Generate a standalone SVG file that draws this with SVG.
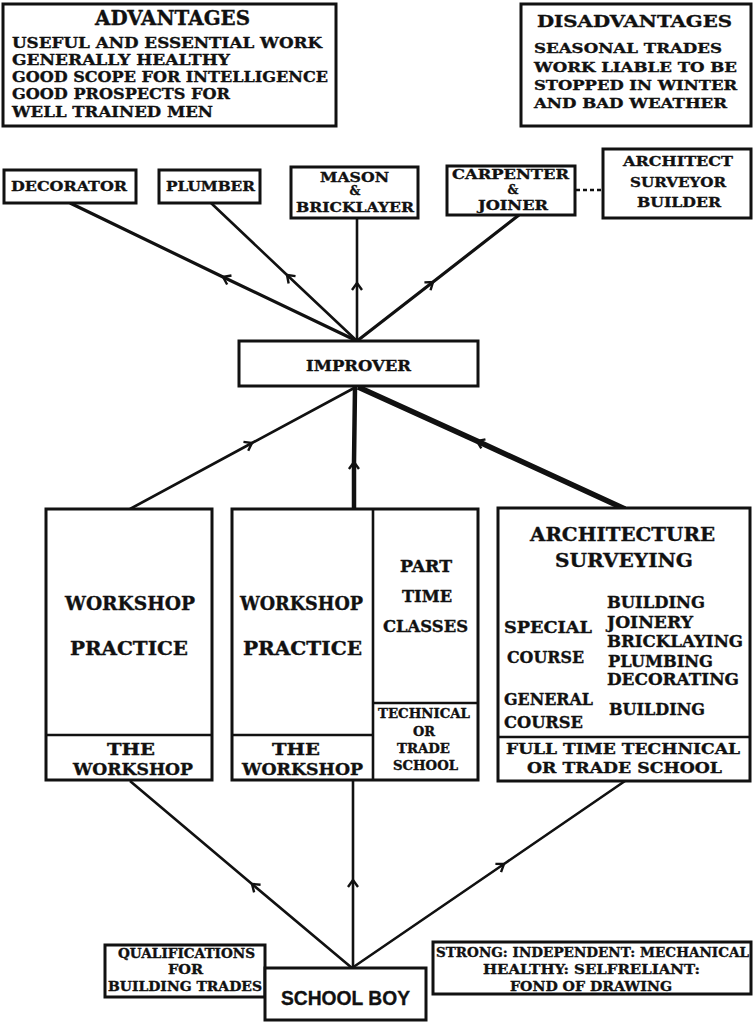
<svg xmlns="http://www.w3.org/2000/svg" width="753" height="1023" viewBox="0 0 753 1023">
<style>
.bx{fill:#fff;stroke:#111;stroke-width:3}
.ln{fill:none;stroke:#111;stroke-width:2.6}
.w3{stroke-width:3.2}
.w45{stroke-width:4.5}
.w55{stroke-width:5.5}
text{font-family:"DejaVu Serif","Liberation Serif",serif;font-weight:bold;fill:#111;stroke:#111;stroke-width:0.35}
.s{font-family:"Liberation Sans","DejaVu Sans",sans-serif}
</style>
<defs>
<marker id="ah" viewBox="-10 -7 12 14" markerWidth="12" markerHeight="14" refX="0" refY="0" orient="auto" markerUnits="userSpaceOnUse">
<path d="M-7,-5 L0,0 L-7,5" fill="none" stroke="#111" stroke-width="2.4"/>
</marker>
</defs>
<rect width="753" height="1023" fill="#fff"/>

<g id="connectors">
<path class="ln w3" d="M357,341 L223,277 L70,203" marker-mid="url(#ah)"/>
<path class="ln" d="M357,341 L287,275 L211,203" marker-mid="url(#ah)"/>
<path class="ln" d="M357,341 L357,283 L357,218" marker-mid="url(#ah)"/>
<path class="ln w3" d="M357,341 L433,282 L519,215" marker-mid="url(#ah)"/>
<path class="ln" d="M576,190 L603,190" stroke-dasharray="4 3"/>
<path class="ln" d="M130,509 L252,443 L356,387" marker-mid="url(#ah)"/>
<path class="ln w45" d="M354,509 L354,462 L355,387" marker-mid="url(#ah)"/>
<path class="ln w55" d="M625,509 L477,441 L358,387" marker-mid="url(#ah)"/>
<path class="ln" d="M352,968 L252,884 L130,781" marker-mid="url(#ah)"/>
<path class="ln" d="M353,968 L353,880 L353,781" marker-mid="url(#ah)"/>
<path class="ln" d="M352,968 L504,864 L625,781" marker-mid="url(#ah)"/>
</g>

<g id="advantages">
<rect class="bx" x="3" y="4" width="333" height="122"/>
<text x="95" y="25" font-size="20" textLength="155" lengthAdjust="spacingAndGlyphs">ADVANTAGES</text>
<text x="12" y="48" font-size="15" textLength="310" lengthAdjust="spacingAndGlyphs">USEFUL AND ESSENTIAL WORK</text>
<text x="12" y="65" font-size="15" textLength="218" lengthAdjust="spacingAndGlyphs">GENERALLY HEALTHY</text>
<text x="12" y="82" font-size="15" textLength="316" lengthAdjust="spacingAndGlyphs">GOOD SCOPE FOR INTELLIGENCE</text>
<text x="12" y="99" font-size="15" textLength="218" lengthAdjust="spacingAndGlyphs">GOOD PROSPECTS FOR</text>
<text x="12" y="117" font-size="15" textLength="201" lengthAdjust="spacingAndGlyphs">WELL TRAINED MEN</text>
</g>

<g id="disadvantages">
<rect class="bx" x="521" y="4" width="230" height="122"/>
<text x="537" y="27" font-size="17" textLength="195" lengthAdjust="spacingAndGlyphs">DISADVANTAGES</text>
<text x="534" y="53" font-size="13.5" textLength="188" lengthAdjust="spacingAndGlyphs">SEASONAL TRADES</text>
<text x="534" y="72" font-size="13.5" textLength="203" lengthAdjust="spacingAndGlyphs">WORK LIABLE TO BE</text>
<text x="534" y="90" font-size="13.5" textLength="203" lengthAdjust="spacingAndGlyphs">STOPPED IN WINTER</text>
<text x="534" y="108" font-size="13.5" textLength="193" lengthAdjust="spacingAndGlyphs">AND BAD WEATHER</text>
</g>

<g id="decorator">
<rect class="bx" x="4" y="170" width="132" height="33"/>
<text x="11" y="191" font-size="13.5" textLength="116" lengthAdjust="spacingAndGlyphs">DECORATOR</text>
</g>
<g id="plumber">
<rect class="bx" x="159" y="170" width="101" height="33"/>
<text x="166" y="191" font-size="13.5" textLength="89" lengthAdjust="spacingAndGlyphs">PLUMBER</text>
</g>
<g id="mason">
<rect class="bx" x="291" y="167" width="127" height="51"/>
<text x="320" y="182" font-size="13" textLength="69" lengthAdjust="spacingAndGlyphs">MASON</text>
<text x="355" y="195" font-size="12" text-anchor="middle">&amp;</text>
<text x="296" y="212" font-size="13.5" textLength="118" lengthAdjust="spacingAndGlyphs">BRICKLAYER</text>
</g>
<g id="carpenter">
<rect class="bx" x="447" y="166" width="128" height="49"/>
<text x="452" y="179" font-size="13.5" textLength="117" lengthAdjust="spacingAndGlyphs">CARPENTER</text>
<text x="513" y="194" font-size="12" text-anchor="middle">&amp;</text>
<text x="478" y="210" font-size="13.5" textLength="70" lengthAdjust="spacingAndGlyphs">JOINER</text>
</g>
<g id="architect">
<rect class="bx" x="603" y="149" width="148" height="69"/>
<text x="623" y="166" font-size="13.5" textLength="110" lengthAdjust="spacingAndGlyphs">ARCHITECT</text>
<text x="630" y="187" font-size="13.5" textLength="96" lengthAdjust="spacingAndGlyphs">SURVEYOR</text>
<text x="637" y="207" font-size="13.5" textLength="84" lengthAdjust="spacingAndGlyphs">BUILDER</text>
</g>

<g id="improver">
<rect class="bx" x="239" y="341" width="239" height="45"/>
<text x="306" y="371" font-size="14" textLength="105" lengthAdjust="spacingAndGlyphs">IMPROVER</text>
</g>

<g id="workshop1">
<rect class="bx" x="46" y="509" width="166" height="271"/>
<line class="ln" x1="46" y1="735" x2="212" y2="735"/>
<text x="65" y="610" font-size="18" textLength="130" lengthAdjust="spacingAndGlyphs">WORKSHOP</text>
<text x="70" y="655" font-size="18" textLength="118" lengthAdjust="spacingAndGlyphs">PRACTICE</text>
<text x="107" y="755" font-size="16" textLength="48" lengthAdjust="spacingAndGlyphs">THE</text>
<text x="73" y="775" font-size="16" textLength="120" lengthAdjust="spacingAndGlyphs">WORKSHOP</text>
</g>

<g id="workshop2">
<rect class="bx" x="232" y="509" width="246" height="271"/>
<line class="ln" x1="373" y1="509" x2="373" y2="780"/>
<line class="ln" x1="232" y1="735" x2="373" y2="735"/>
<line class="ln" x1="373" y1="703" x2="478" y2="703"/>
<text x="240" y="610" font-size="18" textLength="123" lengthAdjust="spacingAndGlyphs">WORKSHOP</text>
<text x="243" y="655" font-size="18" textLength="119" lengthAdjust="spacingAndGlyphs">PRACTICE</text>
<text x="272" y="755" font-size="16" textLength="48" lengthAdjust="spacingAndGlyphs">THE</text>
<text x="242" y="775" font-size="16" textLength="121" lengthAdjust="spacingAndGlyphs">WORKSHOP</text>
<text x="400" y="572" font-size="16" textLength="52" lengthAdjust="spacingAndGlyphs">PART</text>
<text x="402" y="602" font-size="16" textLength="50" lengthAdjust="spacingAndGlyphs">TIME</text>
<text x="383" y="632" font-size="16" textLength="85" lengthAdjust="spacingAndGlyphs">CLASSES</text>
<text x="378" y="718" font-size="12" textLength="92" lengthAdjust="spacingAndGlyphs">TECHNICAL</text>
<text x="413" y="736" font-size="12" textLength="22" lengthAdjust="spacingAndGlyphs">OR</text>
<text x="397" y="753" font-size="12" textLength="53" lengthAdjust="spacingAndGlyphs">TRADE</text>
<text x="393" y="770" font-size="12" textLength="65" lengthAdjust="spacingAndGlyphs">SCHOOL</text>
</g>

<g id="fulltime">
<rect class="bx" x="498" y="508" width="252" height="273"/>
<line class="ln" x1="498" y1="737" x2="750" y2="737"/>
<text x="530" y="541" font-size="19" textLength="185" lengthAdjust="spacingAndGlyphs">ARCHITECTURE</text>
<text x="555" y="567" font-size="19" textLength="138" lengthAdjust="spacingAndGlyphs">SURVEYING</text>
<text x="504" y="633" font-size="16" textLength="88" lengthAdjust="spacingAndGlyphs">SPECIAL</text>
<text x="507" y="663" font-size="16" textLength="77" lengthAdjust="spacingAndGlyphs">COURSE</text>
<text x="504" y="705" font-size="16" textLength="89" lengthAdjust="spacingAndGlyphs">GENERAL</text>
<text x="504" y="728" font-size="16" textLength="79" lengthAdjust="spacingAndGlyphs">COURSE</text>
<text x="607" y="608" font-size="16" textLength="98" lengthAdjust="spacingAndGlyphs">BUILDING</text>
<text x="607" y="628" font-size="16" textLength="86" lengthAdjust="spacingAndGlyphs">JOINERY</text>
<text x="607" y="647" font-size="16" textLength="136" lengthAdjust="spacingAndGlyphs">BRICKLAYING</text>
<text x="608" y="667" font-size="16" textLength="105" lengthAdjust="spacingAndGlyphs">PLUMBING</text>
<text x="607" y="685" font-size="16" textLength="132" lengthAdjust="spacingAndGlyphs">DECORATING</text>
<text x="609" y="715" font-size="16" textLength="96" lengthAdjust="spacingAndGlyphs">BUILDING</text>
<text x="506" y="754" font-size="15" textLength="234" lengthAdjust="spacingAndGlyphs">FULL TIME TECHNICAL</text>
<text x="527" y="773" font-size="15" textLength="195" lengthAdjust="spacingAndGlyphs">OR TRADE SCHOOL</text>
</g>

<g id="qualifications">
<rect class="bx" x="105" y="945" width="160" height="52"/>
<text x="118" y="958" font-size="12" textLength="137" lengthAdjust="spacingAndGlyphs">QUALIFICATIONS</text>
<text x="168" y="974" font-size="12" textLength="35" lengthAdjust="spacingAndGlyphs">FOR</text>
<text x="108" y="991" font-size="12" textLength="154" lengthAdjust="spacingAndGlyphs">BUILDING TRADES</text>
</g>

<g id="schoolboy">
<rect class="bx" x="265" y="968" width="161" height="52"/>
<text class="s" x="281" y="1005" font-size="21" textLength="129" lengthAdjust="spacingAndGlyphs">SCHOOL BOY</text>
</g>

<g id="traits">
<rect class="bx" x="433" y="942" width="318" height="52"/>
<text x="436" y="957" font-size="13" textLength="313" lengthAdjust="spacingAndGlyphs">STRONG: INDEPENDENT: MECHANICAL</text>
<text x="483" y="974" font-size="13" textLength="217" lengthAdjust="spacingAndGlyphs">HEALTHY: SELFRELIANT:</text>
<text x="510" y="991" font-size="13" textLength="162" lengthAdjust="spacingAndGlyphs">FOND OF DRAWING</text>
</g>
</svg>
